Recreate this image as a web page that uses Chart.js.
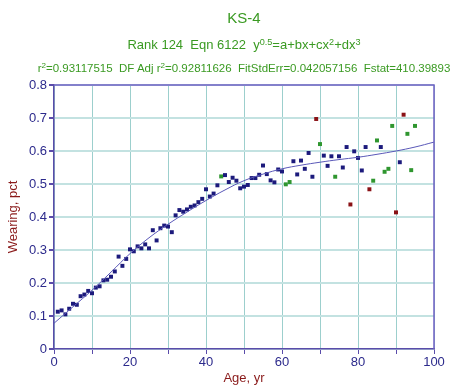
<!DOCTYPE html>
<html>
<head>
<meta charset="utf-8">
<script src="https://cdn.jsdelivr.net/npm/chart.js@4/dist/chart.umd.min.js"></script>
<style>
  html, body { margin: 0; padding: 0; background: #fff; overflow: hidden; }
  #wrap { position: relative; width: 458px; height: 386px; }
  #chart { position: absolute; left: 0; top: 0; }
  .ttl {
    position: absolute; left: 30px; width: 428px; text-align: center;
    font-family: Arial, "Liberation Sans", sans-serif; color: #3a9a22;
    white-space: nowrap; line-height: 1;
  }
  .ttl sup { font-size: 70%; vertical-align: 0; position: relative; top: -0.45em; }
  #t1 { top: 10px; font-size: 15px; }
  #t2 { top: 38px; font-size: 13px; }
  #t3 { top: 63px; font-size: 11.5px; }
</style>
</head>
<body>
<div id="wrap">
  <canvas id="chart" width="458" height="386"></canvas>
  <div class="ttl" id="t1">KS-4</div>
  <div class="ttl" id="t2">Rank 124&nbsp; Eqn 6122&nbsp; y<sup>0.5</sup>=a+bx+cx<sup>2</sup>+dx<sup>3</sup></div>
  <div class="ttl" id="t3">r<sup>2</sup>=0.93117515&nbsp; DF Adj r<sup>2</sup>=0.92811626&nbsp; FitStdErr=0.042057156&nbsp; Fstat=410.39893</div>
</div>
<script>
// -------------------------
// Data
// -------------------------
const ages = [];
for (let a = 1; a <= 95; a++) ages.push(a);

const wearing = [
  0.113, 0.117, 0.105, 0.122, 0.137, 0.134, 0.160, 0.165, 0.176, 0.169,
  0.186, 0.190, 0.208, 0.210, 0.219, 0.235, 0.280, 0.252, 0.273, 0.302,
  0.296, 0.311, 0.305, 0.317, 0.305, 0.360, 0.329, 0.366, 0.374, 0.371,
  0.354, 0.405, 0.421, 0.416, 0.423, 0.431, 0.435, 0.445, 0.455, 0.484,
  0.462, 0.471, 0.496, 0.523, 0.527, 0.506, 0.519, 0.510, 0.487, 0.492,
  0.497, 0.518, 0.518, 0.528, 0.556, 0.530, 0.511, 0.505, 0.544, 0.538,
  0.499, 0.506, 0.569, 0.529, 0.571, 0.546, 0.594, 0.522, 0.697, 0.621,
  0.586, 0.555, 0.584, 0.522, 0.584, 0.550, 0.612, 0.438, 0.599, 0.579,
  0.541, 0.612, 0.484, 0.510, 0.632, 0.612, 0.537, 0.546, 0.676, 0.414,
  0.566, 0.710, 0.652, 0.542, 0.676
];

// points flagged away from the fit
const greenAges = [44, 61, 62, 70, 74, 84, 85, 87, 88, 89, 93, 94, 95];
const redAges = [69, 78, 83, 90, 92];

// fitted curve
const curveAges = [0, 5, 10, 15, 20, 25, 30, 35, 40, 45, 50, 55, 60, 65, 70, 75, 80, 85, 90, 95, 100];
const curveValues = [0.078, 0.128, 0.178, 0.233, 0.289, 0.337, 0.378, 0.415, 0.450, 0.482,
  0.510, 0.530, 0.546, 0.557, 0.566, 0.574, 0.581, 0.590, 0.600, 0.612, 0.627];

const xTicks = [0, 20, 40, 60, 80, 100];

// -------------------------
// Build datasets
// -------------------------
const navyPts = [], greenPts = [], redPts = [];
ages.forEach((a, i) => {
  const p = { x: a, y: wearing[i] };
  if (redAges.includes(a)) redPts.push(p);
  else if (greenAges.includes(a)) greenPts.push(p);
  else navyPts.push(p);
});
const curvePts = curveAges.map((a, i) => ({ x: a, y: curveValues[i] }));

const frame = {
  id: "frame",
  afterDraw(chart) {
    const { ctx, chartArea: c } = chart;
    ctx.save();
    ctx.strokeStyle = "#6f60c4";
    ctx.lineWidth = 1.5;
    ctx.beginPath();
    ctx.moveTo(c.left, c.top);
    ctx.lineTo(c.right, c.top);
    ctx.lineTo(c.right, c.bottom);
    ctx.stroke();
    ctx.restore();
  }
};

const pointBase = { pointStyle: "rect", pointRadius: 2.8, pointBorderWidth: 0, showLine: false };

new Chart(document.getElementById("chart"), {
  type: "scatter",
  data: {
    datasets: [
      { data: curvePts, showLine: true, borderColor: "#5a58b8", borderWidth: 1, pointRadius: 0, tension: 0.4, fill: false },
      { ...pointBase, data: navyPts, backgroundColor: "#1c1a7c", borderColor: "#1c1a7c" },
      { ...pointBase, data: greenPts, backgroundColor: "#2f962f", borderColor: "#2f962f" },
      { ...pointBase, data: redPts, backgroundColor: "#8a1216", borderColor: "#8a1216" }
    ]
  },
  options: {
    responsive: false,
    animation: false,
    layout: { padding: { top: 85, right: 24, left: 0, bottom: 0 } },
    plugins: { legend: { display: false }, tooltip: { enabled: false } },
    scales: {
      x: {
        min: 0, max: 100,
        afterFit: s => { s.height = 37; },
        ticks: {
          stepSize: 10, autoSkip: false, maxRotation: 0, padding: 1,
          color: "#2c2a8c", font: { family: "Arial, 'Liberation Sans'", size: 13 },
          callback: v => (xTicks.includes(v) ? v : "")
        },
        grid: { color: "#9ccfcd", lineWidth: 1, tickLength: 5, tickColor: "#5a4caa" },
        border: { color: "#5a4caa", width: 1.5 },
        title: {
          display: true, text: "Age, yr", color: "#8a1a1a", padding: { top: 0, bottom: 0 },
          font: { family: "Arial, 'Liberation Sans'", size: 13 }
        }
      },
      y: {
        min: 0, max: 0.8,
        afterFit: s => { s.width = 54; },
        ticks: {
          stepSize: 0.1, padding: 2,
          color: "#2c2a8c", font: { family: "Arial, 'Liberation Sans'", size: 13 }
        },
        grid: { color: "#c3e2e1", lineWidth: 2, tickLength: 5, tickColor: "#5a4caa" },
        border: { color: "#5a4caa", width: 1.5 },
        title: {
          display: true, text: "Wearing, pct", color: "#8a1a1a", padding: { top: 6, bottom: 0 },
          font: { family: "Arial, 'Liberation Sans'", size: 13 }
        }
      }
    }
  },
  plugins: [frame]
});
</script>
</body>
</html>
